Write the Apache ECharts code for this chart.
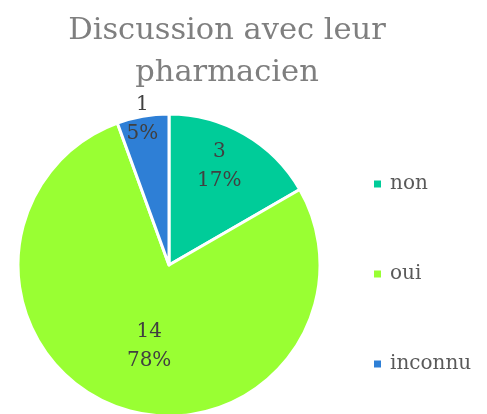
<!DOCTYPE html>
<html><head><meta charset="utf-8">
<script src="https://cdn.jsdelivr.net/npm/echarts@6/dist/echarts.min.js"></script>
<style>html,body{margin:0;padding:0;background:#fff}#c{width:487px;height:414px}</style>
</head><body><div id="c"></div>
<script>
const titleText = 'Discussion avec leur\npharmacien';
const categories = ['non', 'oui', 'inconnu'];
const values = [3, 14, 1];
const colors = ['#00CC99', '#99FF33', '#2E7FD6'];
const labelShift = [[11, -31], [7, 8], [-13, -68]];

const chart = echarts.init(document.getElementById('c'));
chart.setOption({
  animation: false,
  title: {
    text: titleText, left: 222, top: 5, textAlign: 'center',
    textStyle: { fontFamily: 'DejaVu Serif', fontSize: 30.5, fontWeight: 'normal', color: '#7F7F7F', lineHeight: 42 }
  },
  legend: {
    orient: 'vertical', left: 367, top: 169, itemWidth: 9, itemHeight: 9, itemGap: 70, icon: 'rect',
    textStyle: { fontFamily: 'DejaVu Serif', fontSize: 20, color: '#595959', padding: [0, 0, 0, 3] },
    data: categories
  },
  series: [{
    type: 'pie', center: [169, 265], radius: 151, startAngle: 90, clockwise: true,
    percentPrecision: 0,
    itemStyle: { borderColor: '#fff', borderWidth: 3 },
    label: {
      position: 'inside', formatter: '{c}\n{d}%',
      fontFamily: 'DejaVu Serif', fontSize: 20, color: '#404040', lineHeight: 29
    },
    labelLayout: function (p) { const s = labelShift[p.dataIndex]; return { dx: s[0], dy: s[1] }; },
    emphasis: { disabled: true },
    data: categories.map((n, i) => ({ name: n, value: values[i], itemStyle: { color: colors[i] } }))
  }]
});
</script></body></html>
